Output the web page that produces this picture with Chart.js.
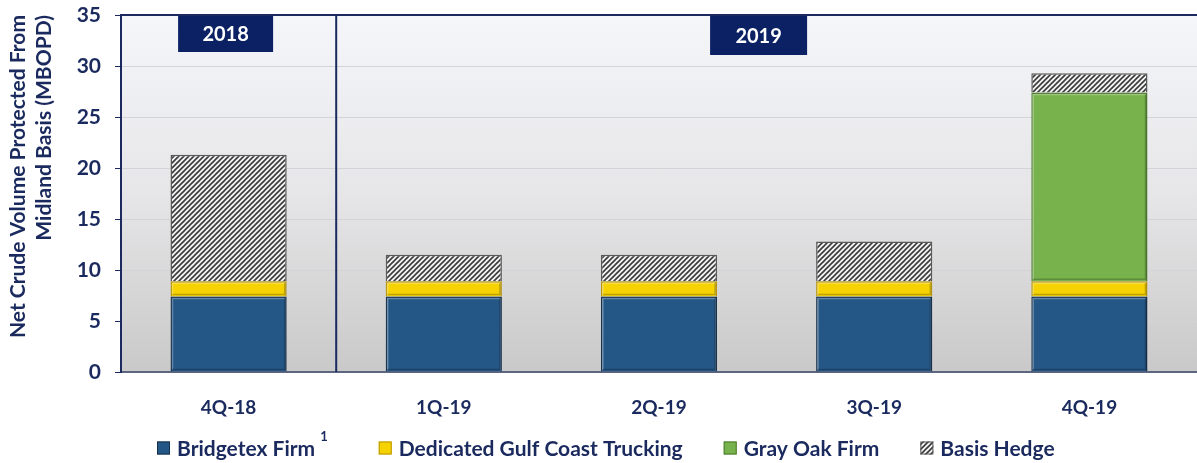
<!DOCTYPE html>
<html>
<head>
<meta charset="utf-8">
<script src="https://cdn.jsdelivr.net/npm/chart.js@4.4.1/dist/chart.umd.min.js"></script>
<style>
  html, body { margin: 0; padding: 0; background: #fff; }
  #wrap { width: 1197px; height: 463px; }
</style>
</head>
<body>
<div id="wrap"><canvas id="chart"></canvas></div>
<script>
// Quarters and stacked volumes (MBOPD)
const quarters = ['4Q-18', '1Q-19', '2Q-19', '3Q-19', '4Q-19'];
const bridgetex = [7.4, 7.4, 7.4, 7.4, 7.4];
const trucking = [1.5, 1.5, 1.5, 1.5, 1.5];
const grayOak = [0, 0, 0, 0, 18.5];
const basisHedge = [12.4, 2.6, 2.6, 3.9, 1.9];
const yearLabels = ['2018', '2019'];
const legendSup = ['1', '', '', ''];

const navy = '#1b2a5e';
const fontFam = 'Lato, "Open Sans", sans-serif';

// hatch pattern for basis hedge
function makeHatch() {
    const c = document.createElement('canvas');
    c.width = 5; c.height = 5;
    const x = c.getContext('2d');
    x.fillStyle = '#f4f4f4';
    x.fillRect(0, 0, 5, 5);
    x.strokeStyle = '#3a3a3a';
    x.lineWidth = 1.6;
    x.beginPath();
    x.moveTo(0, 5); x.lineTo(5, 0);
    x.moveTo(-1, 1); x.lineTo(1, -1);
    x.moveTo(4, 6); x.lineTo(6, 4);
    x.stroke();
    return x.createPattern(c, 'repeat');
}
const hatch = makeHatch();

// background, separator, year boxes, legend
const decor = {
    id: 'decor',
    beforeDraw(chart) {
        const { ctx, chartArea: a } = chart;
        const g = ctx.createLinearGradient(0, a.top, 0, a.bottom);
        g.addColorStop(0, '#f5f6fa');
        g.addColorStop(0.5, '#e6e6e8');
        g.addColorStop(1, '#c9c9c9');
        ctx.save();
        ctx.fillStyle = g;
        ctx.fillRect(a.left, a.top, a.right - a.left, a.bottom - a.top);
        ctx.restore();
    },
    afterDatasetsDraw(chart) {
        // light bevel on the solid bars
        const ctx = chart.ctx;
        ctx.save();
        [0, 1, 2].forEach(di => {
            chart.getDatasetMeta(di).data.forEach(bar => {
                const p = bar.getProps(['x', 'y', 'base', 'width']);
                const h = p.base - p.y;
                if (h < 4) return;
                const l = p.x - p.width / 2 + 2, r = p.x + p.width / 2 - 2;
                ctx.strokeStyle = 'rgba(255,255,255,0.28)';
                ctx.lineWidth = 1.5;
                ctx.beginPath();
                ctx.moveTo(l, p.base - 2); ctx.lineTo(l, p.y + 2); ctx.lineTo(r, p.y + 2);
                ctx.stroke();
                ctx.strokeStyle = 'rgba(0,0,0,0.22)';
                ctx.beginPath();
                ctx.moveTo(r, p.y + 2); ctx.lineTo(r, p.base - 2); ctx.lineTo(l, p.base - 2);
                ctx.stroke();
            });
        });
        ctx.restore();
    },
    afterDraw(chart) {
        const { ctx, chartArea: a, scales } = chart;
        const x = scales.x;
        const sep = (x.getPixelForValue(0) + x.getPixelForValue(1)) / 2;
        ctx.save();
        ctx.strokeStyle = navy;
        ctx.lineWidth = 2;
        ctx.beginPath();
        ctx.moveTo(a.left, a.top); ctx.lineTo(a.right, a.top);
        ctx.moveTo(sep, a.top); ctx.lineTo(sep, a.bottom);
        ctx.stroke();

        const boxes = [
            { text: yearLabels[0], cx: x.getPixelForValue(0) - 3, w: 95, h: 36 },
            { text: yearLabels[1], cx: (sep + a.right) / 2 - 8, w: 97, h: 39 }
        ];
        ctx.font = 'bold 20px ' + fontFam;
        ctx.textAlign = 'center';
        ctx.textBaseline = 'middle';
        boxes.forEach(b => {
            ctx.fillStyle = '#0b2163';
            ctx.fillRect(b.cx - b.w / 2, a.top + 1, b.w, b.h);
            ctx.fillStyle = '#ffffff';
            ctx.fillText(b.text, b.cx, a.top + 1 + b.h / 2 + 1);
        });

        // legend
        const ly = 448, box = 13, gapBox = 7, gapItem = 41;
        const lf = 'bold 21px ' + fontFam;
        ctx.textAlign = 'left';
        let lx = a.left + 36;
        chart.data.datasets.forEach((d, i) => {
            ctx.fillStyle = d.backgroundColor;
            ctx.fillRect(lx, ly - box / 2, box, box);
            ctx.strokeStyle = d.borderColor;
            ctx.lineWidth = 1;
            ctx.strokeRect(lx + 0.5, ly - box / 2 + 0.5, box - 1, box - 1);
            ctx.fillStyle = navy;
            ctx.font = lf;
            ctx.textBaseline = 'middle';
            ctx.fillText(d.label, lx + box + gapBox, ly + 1);
            let w = box + gapBox + ctx.measureText(d.label).width;
            if (legendSup[i]) {
                ctx.font = 'bold 13px ' + fontFam;
                ctx.fillText(legendSup[i], lx + w + 5, ly - 11);
                w += 5 + ctx.measureText(legendSup[i]).width + 10;
            }
            lx += w + gapItem;
        });
        ctx.restore();
    }
};

const common = { borderWidth: 1.5, barPercentage: 0.54, categoryPercentage: 1 };

new Chart(document.getElementById('chart'), {
    type: 'bar',
    data: {
        labels: quarters,
        datasets: [
            { label: 'Bridgetex Firm', data: bridgetex, backgroundColor: '#245785', borderColor: '#17324f', ...common },
            { label: 'Dedicated Gulf Coast Trucking', data: trucking, backgroundColor: '#f5d200', borderColor: '#b8950a', ...common },
            { label: 'Gray Oak Firm', data: grayOak, backgroundColor: '#77b24c', borderColor: '#4d7a2e', ...common },
            { label: 'Basis Hedge', data: basisHedge, backgroundColor: hatch, borderColor: '#5a5a5a', ...common }
        ]
    },
    options: {
        responsive: true,
        maintainAspectRatio: false,
        animation: false,
        layout: { padding: { top: 15, right: 0, left: 0, bottom: 43 } },
        plugins: {
            tooltip: { enabled: false },
            legend: { display: false }
        },
        scales: {
            x: {
                stacked: true,
                grid: { display: false },
                border: { color: '#5c6680', width: 2 },
                ticks: { color: navy, font: { family: fontFam, size: 19, weight: 'bold' }, padding: 16 },
                afterFit(s) { s.height = 48; }
            },
            y: {
                stacked: true,
                min: 0,
                max: 35,
                ticks: { stepSize: 5, color: navy, font: { family: fontFam, size: 21, weight: 'bold' }, padding: 14 },
                grid: { color: '#d4d4d8', tickColor: navy, tickLength: 6 },
                border: { color: navy, width: 2 },
                title: {
                    display: true,
                    align: 'end',
                    text: ['Net Crude Volume Protected From', 'Midland Basis (MBOPD)'],
                    color: navy,
                    font: { family: fontFam, size: 21, weight: 'bold', lineHeight: 1.2 },
                    padding: { top: 6, bottom: 4 }
                },
                afterFit(s) { s.width = 121; s.paddingTop = 0; s.paddingBottom = 0; }
            }
        }
    },
    plugins: [decor]
});
</script>
</body>
</html>
